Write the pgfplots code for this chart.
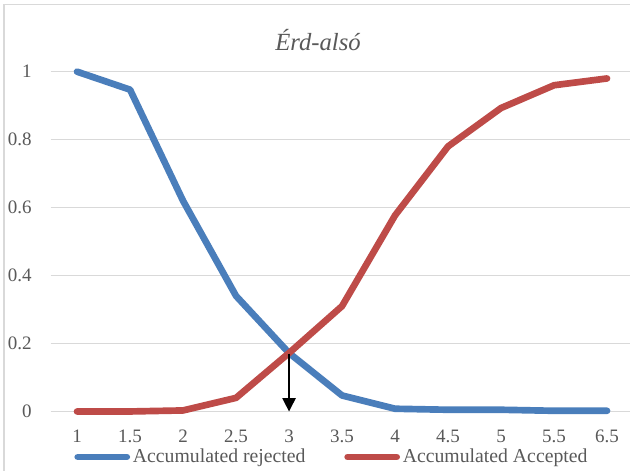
\documentclass[border=0pt]{standalone}
\usepackage{pgfplots}
\pgfplotsset{compat=1.18}
\usepackage{fontspec}
\setmainfont{Liberation Serif}
\usetikzlibrary{arrows.meta}

\definecolor{rej}{HTML}{4A7EBB}
\definecolor{acc}{HTML}{BE4B48}
\definecolor{txt}{HTML}{595959}
\definecolor{gridc}{HTML}{D9D9D9}

\begin{document}
\begin{tikzpicture}
\useasboundingbox (0,0) rectangle (472.5pt,352.5pt);
\clip (0,0) rectangle (472.5pt,352.5pt);
\fill[white] (0,0) rectangle (472.5pt,352.5pt);
\draw[gridc, line width=0.8pt] (3pt,-5pt) rectangle (480pt,348.8pt);

\begin{axis}[
  at={(37.9pt,43.9pt)}, anchor=south west,
  scale only axis, width=437.25pt, height=254.85pt,
  xmin=-0.5, xmax=10.5, ymin=0, ymax=1,
  clip=false,
  axis line style={draw=none},
  major tick length=0pt,
  xtick={0,...,10},
  xticklabels={1,1.5,2,2.5,3,3.5,4,4.5,5,5.5,6.5},
  ytick={0,0.2,0.4,0.6,0.8,1},
  yticklabels={0,0.2,0.4,0.6,0.8,1},
  xmajorgrids=false, ymajorgrids=true,
  major grid style={draw=gridc, line width=0.8pt},
  /pgf/number format/assume math mode=true,
  xticklabel style={inner sep=0pt, yshift=-13.9pt, text=txt, font=\fontsize{14.25}{16}\selectfont},
  yticklabel style={inner sep=0pt, xshift=-13.9pt, text=txt, font=\fontsize{14.25}{16}\selectfont},
  legend columns=2,
  legend style={at={(0.035,-0.134)}, anchor=west, draw=none, fill=none,
    inner sep=0pt, outer sep=0pt, text=txt,
    font=\fontsize{14.8}{16}\selectfont,
    /tikz/every even column/.append style={column sep=26pt},
    nodes={inner sep=0.5pt}},
  legend image code/.code={
    \draw[#1, line cap=round] (2.6pt,0pt) -- (39.4pt,0pt);
    \path (0pt,0pt) (41pt,0pt);
  },
]
\addplot[rej, line width=5pt, line join=round, line cap=round] coordinates {
  (0,1.0) (1,0.947) (2,0.62) (3,0.34) (4,0.172) (5,0.047)
  (6,0.008) (7,0.005) (8,0.005) (9,0.002) (10,0.002)
};
\addlegendentry{Accumulated rejected}
\addplot[acc, line width=5pt, line join=round, line cap=round] coordinates {
  (0,0.0) (1,0.0) (2,0.003) (3,0.04) (4,0.172) (5,0.31)
  (6,0.577) (7,0.78) (8,0.893) (9,0.96) (10,0.98)
};
\addlegendentry{Accumulated Accepted}
\draw[black, line width=1pt, -{Triangle[width=10pt,length=10pt]}]
  (axis cs:4,0.17) -- (axis cs:4,0);
\end{axis}

\node[anchor=base, text=txt, font=\fontsize{18.5}{20}\selectfont\itshape]
  at (238.5pt,314.5pt) {Érd-alsó};
\end{tikzpicture}
\end{document}
